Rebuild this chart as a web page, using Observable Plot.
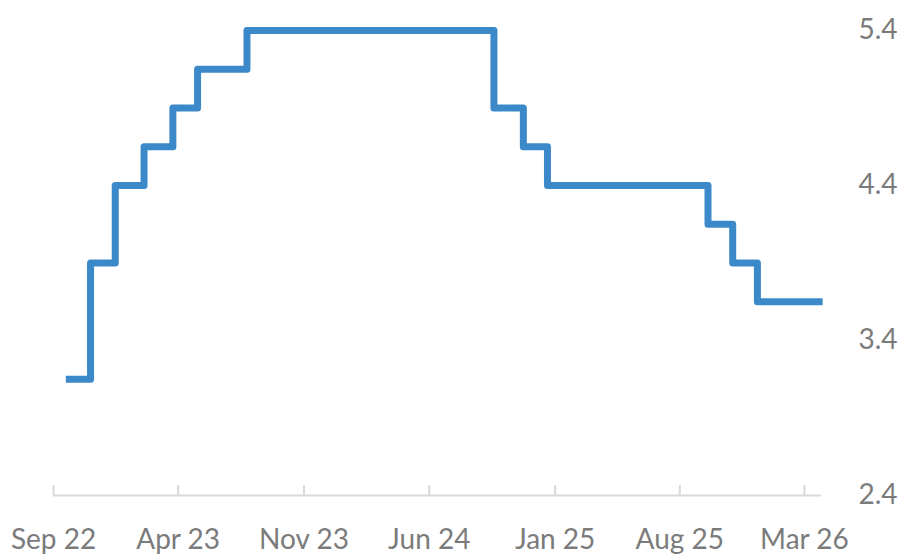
<!DOCTYPE html>
<html>
<head>
<meta charset="utf-8">
<script src="https://cdn.jsdelivr.net/npm/d3@7"></script>
<script src="https://cdn.jsdelivr.net/npm/@observablehq/plot@0.6"></script>
<style>
  html, body { margin: 0; padding: 0; background: #fff; }
  #chart svg { display: block; }
</style>
</head>
<body>
<div id="chart"></div>
<script>
const dates = ["2022-09-22","2022-11-03","2022-12-15","2023-02-02","2023-03-23","2023-05-04","2023-07-27","2024-09-19","2024-11-08","2024-12-19","2025-09-18","2025-10-30","2025-12-11","2026-04-01"];
const rates = [3.15, 3.90, 4.40, 4.65, 4.90, 5.15, 5.40, 4.90, 4.65, 4.40, 4.15, 3.90, 3.65, 3.65];
const xTickDates = ["2022-09-01","2023-04-01","2023-11-01","2024-06-01","2025-01-01","2025-08-01","2026-03-01"];
const yTicks = [2.4, 3.4, 4.4, 5.4];

const data = dates.map((d, i) => ({date: new Date(d + "T00:00:00"), rate: rates[i]}));
const xTicks = xTickDates.map(d => new Date(d + "T00:00:00"));
const fmt = d3.timeFormat("%b %y");

const chart = Plot.plot({
  width: 907,
  height: 557,
  marginTop: 30,
  marginBottom: 62,
  marginLeft: 53,
  marginRight: 86,
  style: {fontFamily: "Lato, sans-serif", fontSize: "28px", color: "#7b7b7b", background: "#fff"},
  x: {type: "time", domain: [new Date("2022-09-01T00:00:00"), new Date("2026-03-30T00:00:00")], label: null},
  y: {domain: [2.4, 5.4], label: null},
  marks: [
    Plot.ruleY([2.4], {stroke: "#d9d9d9", strokeWidth: 2}),
    Plot.ruleX(xTicks, {x: d => d, stroke: "#d9d9d9", strokeWidth: 2, insetTop: 455}),
    Plot.axisX({ticks: xTicks, tickFormat: fmt, tickSize: 0, tickPadding: 34, fill: "#7b7b7b", fontSize: 28, label: null}),
    Plot.axisY({anchor: "right", ticks: yTicks, tickFormat: d => d.toFixed(1), tickSize: 0, tickPadding: 76, textAnchor: "end", fill: "#7b7b7b", fontSize: 28, label: null}),
    Plot.line(data, {x: "date", y: "rate", curve: "step-after", stroke: "#3b89c9", strokeWidth: 7, strokeLinejoin: "round", strokeLinecap: "butt"})
  ]
});
document.getElementById("chart").appendChild(chart);
</script>
</body>
</html>
